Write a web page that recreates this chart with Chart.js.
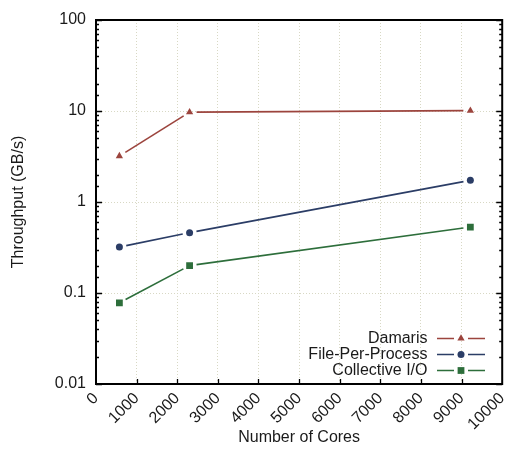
<!DOCTYPE html>
<html>
<head>
<meta charset="utf-8">
<script src="https://cdn.jsdelivr.net/npm/chart.js@4/dist/chart.umd.min.js"></script>
<style>
  html, body { margin: 0; padding: 0; background: #ffffff; }
  #wrap { width: 507px; height: 457px; }
</style>
</head>
<body>
<div id="wrap"><canvas id="chart" width="507" height="457"></canvas></div>
<script>
// Core counts used in the runs
const coreCounts = [576, 2304, 9216];

// Aggregate throughput per strategy (GB/s)
const damaris = [3.2, 9.7, 10.1];
const filePerProcess = [0.32, 0.46, 1.73];
const collectiveIO = [0.078, 0.20, 0.53];

const seriesNames = ['Damaris', 'File-Per-Process', 'Collective I/O'];
const seriesColors = ['#9c443d', '#2b3d66', '#2d6e3b'];
const seriesMarkers = ['triangle', 'circle', 'rect'];
const markerRadius = [4.2, 3.5, 4.8];

const xTickValues = [0, 1000, 2000, 3000, 4000, 5000, 6000, 7000, 8000, 9000, 10000];
const yTickLabels = ['0.01', '0.1', '1', '10', '100'];

const FONT = '"Liberation Sans", Arial, Helvetica, sans-serif';
const TEXT = '#1a1a1a';
const GRID = '#d8d8c4';
const GAP = 7; // blank space left around each marker along the line

function decade(v) {
  const l = Math.log10(v);
  const r = Math.round(l);
  return Math.abs(l - r) < 1e-6 ? r : null;
}

function toPoints(values) {
  return coreCounts.map((x, i) => ({ x: x, y: values[i] }));
}

// Each segment is dashed so that it starts and stops a little short of the markers
function gappedDash(ctx) {
  const dx = ctx.p1.x - ctx.p0.x;
  const dy = ctx.p1.y - ctx.p0.y;
  const len = Math.sqrt(dx * dx + dy * dy);
  const on = Math.max(len - 2 * GAP, 0.01);
  return [0, GAP, on, len + 1000];
}

function makeDataset(i, values) {
  return {
    label: seriesNames[i],
    data: toPoints(values),
    borderColor: seriesColors[i],
    backgroundColor: seriesColors[i],
    borderWidth: 1.6,
    pointStyle: seriesMarkers[i],
    pointRadius: markerRadius[i],
    pointHoverRadius: markerRadius[i],
    pointBorderWidth: 0,
    pointBackgroundColor: seriesColors[i],
    tension: 0,
    segment: { borderDash: gappedDash }
  };
}

// Plot frame with inward tick marks on bottom, left and right
const framePlugin = {
  id: 'frame',
  afterDatasetsDraw(chart) {
    const { ctx, chartArea: a, scales } = chart;
    ctx.save();
    ctx.strokeStyle = '#000000';
    ctx.lineWidth = 1.3;
    ctx.beginPath();
    scales.x.ticks.forEach(t => {
      if (t.value <= 0 || t.value >= 10000) return;
      const px = Math.round(scales.x.getPixelForValue(t.value)) + 0.5;
      ctx.moveTo(px, a.bottom);
      ctx.lineTo(px, a.bottom - 5);
    });
    scales.y.ticks.forEach(t => {
      const py = Math.round(scales.y.getPixelForValue(t.value)) + 0.5;
      const len = decade(t.value) !== null ? 6 : 3;
      ctx.moveTo(a.left, py);
      ctx.lineTo(a.left + len, py);
      ctx.moveTo(a.right, py);
      ctx.lineTo(a.right - len, py);
    });
    ctx.stroke();
    ctx.lineWidth = 2;
    ctx.strokeRect(a.left, a.top, a.right - a.left, a.bottom - a.top);
    ctx.restore();
  }
};

function drawMarker(ctx, style, r, x, y) {
  ctx.beginPath();
  if (style === 'triangle') {
    const w = r * Math.sqrt(3) / 2;
    ctx.moveTo(x, y - r);
    ctx.lineTo(x + w, y + r / 2);
    ctx.lineTo(x - w, y + r / 2);
    ctx.closePath();
  } else if (style === 'circle') {
    ctx.arc(x, y, r, 0, Math.PI * 2);
  } else {
    const s = Math.SQRT1_2 * r;
    ctx.rect(x - s, y - s, 2 * s, 2 * s);
  }
  ctx.fill();
}

// Key in the lower right corner: name, then a line sample with the marker
const keyPlugin = {
  id: 'key',
  afterDraw(chart) {
    const { ctx } = chart;
    const textRight = 427.5;
    const lineStart = 437, lineEnd = 485;
    const rows = [337.5, 353.7, 369.8];
    ctx.save();
    ctx.font = '16px ' + FONT;
    ctx.textAlign = 'right';
    ctx.textBaseline = 'middle';
    chart.data.datasets.forEach((ds, i) => {
      const y = Math.round(rows[i]) + 0.5;
      const mid = (lineStart + lineEnd) / 2;
      ctx.fillStyle = TEXT;
      ctx.fillText(ds.label, textRight, y);
      ctx.strokeStyle = ds.borderColor;
      ctx.lineWidth = 1.6;
      ctx.beginPath();
      ctx.moveTo(lineStart, y);
      ctx.lineTo(mid - GAP, y);
      ctx.moveTo(mid + GAP, y);
      ctx.lineTo(lineEnd, y);
      ctx.stroke();
      ctx.fillStyle = ds.borderColor;
      drawMarker(ctx, ds.pointStyle, ds.pointRadius, mid, y);
    });
    ctx.restore();
  }
};

new Chart(document.getElementById('chart'), {
  type: 'line',
  data: {
    datasets: [
      makeDataset(0, damaris),
      makeDataset(1, filePerProcess),
      makeDataset(2, collectiveIO)
    ]
  },
  options: {
    responsive: false,
    animation: false,
    devicePixelRatio: 1,
    layout: { padding: { top: 20, right: 4, left: 0, bottom: 0 } },
    plugins: {
      legend: { display: false },
      tooltip: { enabled: false }
    },
    scales: {
      x: {
        type: 'linear',
        position: 'bottom',
        min: 0,
        max: 10000,
        afterBuildTicks(scale) {
          scale.ticks = xTickValues.map(v => ({ value: v }));
        },
        afterFit(scale) {
          scale.height = 73;
          scale.paddingLeft = 0;
          scale.paddingRight = 0;
        },
        ticks: {
          autoSkip: false,
          minRotation: 45,
          maxRotation: 45,
          padding: 5,
          color: TEXT,
          font: { family: FONT, size: 16 },
          callback: v => String(v)
        },
        grid: {
          drawTicks: false,
          lineWidth: 1,
          color: c => (c.tick && (c.tick.value === 0 || c.tick.value === 10000)) ? 'rgba(0,0,0,0)' : GRID
        },
        border: { display: false, dash: [1, 2] },
        title: {
          display: true,
          text: 'Number of Cores',
          color: TEXT,
          font: { family: FONT, size: 16 },
          padding: { top: 0, bottom: 9.5 }
        }
      },
      y: {
        type: 'logarithmic',
        position: 'left',
        min: 0.01,
        max: 100,
        afterFit(scale) {
          scale.width = 96;
          scale.paddingTop = 0;
          scale.paddingBottom = 0;
        },
        ticks: {
          autoSkip: false,
          padding: 10,
          color: TEXT,
          font: { family: FONT, size: 16 },
          callback: v => {
            const d = decade(v);
            return d === null ? '' : yTickLabels[d + 2];
          }
        },
        grid: {
          drawTicks: false,
          lineWidth: 1,
          color: c => {
            if (!c.tick) return 'rgba(0,0,0,0)';
            const d = decade(c.tick.value);
            return (d === null || d === -2 || d === 2) ? 'rgba(0,0,0,0)' : GRID;
          }
        },
        border: { display: false, dash: [1, 2] },
        title: {
          display: true,
          text: 'Throughput (GB/s)',
          color: TEXT,
          font: { family: FONT, size: 16 },
          padding: { top: 9, bottom: 0 }
        }
      }
    }
  },
  plugins: [framePlugin, keyPlugin]
});
</script>
</body>
</html>
